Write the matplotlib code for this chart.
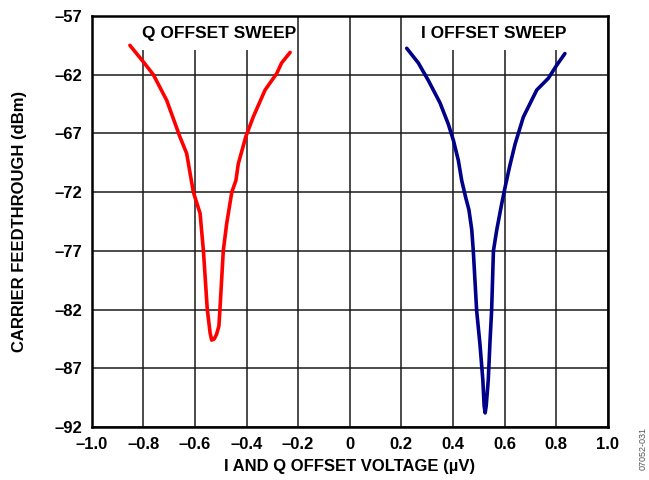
import matplotlib
matplotlib.use('Agg')
import matplotlib.pyplot as plt
from matplotlib.patches import Rectangle

# Q offset sweep (red)
q_volt = [-0.852, -0.800, -0.761, -0.709, -0.658, -0.632, -0.606, -0.580, -0.567,
          -0.552, -0.547, -0.541, -0.535, -0.525, -0.516, -0.507, -0.503, -0.490,
          -0.477, -0.457, -0.441, -0.432, -0.403, -0.374, -0.328, -0.283, -0.264, -0.231]
q_feed = [-59.5, -60.9, -62.0, -64.2, -67.3, -68.7, -72.0, -73.8, -77.0,
          -82.0, -82.9, -84.0, -84.6, -84.5, -84.1, -83.4, -82.0, -77.0,
          -74.7, -72.0, -71.0, -69.6, -67.3, -65.6, -63.3, -61.9, -61.0, -60.1]

# I offset sweep (blue)
i_volt = [0.221, 0.266, 0.305, 0.350, 0.382, 0.402, 0.421, 0.434, 0.450, 0.462,
          0.473, 0.479, 0.492, 0.505, 0.516, 0.521, 0.525, 0.529, 0.537, 0.544,
          0.550, 0.557, 0.570, 0.589, 0.603, 0.620, 0.641, 0.673, 0.725, 0.770,
          0.802, 0.834]
i_feed = [-59.75, -61.0, -62.5, -64.4, -66.2, -67.6, -69.3, -71.0, -72.5, -73.5,
          -75.2, -77.0, -82.1, -85.0, -88.0, -90.2, -90.8, -90.2, -88.0, -84.6,
          -82.1, -77.0, -75.2, -73.0, -71.5, -69.8, -67.9, -65.6, -63.3, -62.3,
          -61.2, -60.2]

xticks = [-1.0, -0.8, -0.6, -0.4, -0.2, 0, 0.2, 0.4, 0.6, 0.8, 1.0]
xlabels = ['–1.0', '–0.8', '–0.6', '–0.4', '–0.2', '0', '0.2', '0.4', '0.6', '0.8', '1.0']
yticks = [-57, -62, -67, -72, -77, -82, -87, -92]
ylabels = ['–57', '–62', '–67', '–72', '–77', '–82', '–87', '–92']

plt.rcParams['font.family'] = ['Liberation Sans', 'DejaVu Sans']
plt.rcParams['font.weight'] = 'bold'

fig = plt.figure(figsize=(6.49, 4.8), dpi=100)
ax = fig.add_axes([0.1413, 0.1104, 0.7951, 0.8563])

ax.set_xlim(-1.0, 1.0)
ax.set_ylim(-92, -57)
ax.set_xticks(xticks)
ax.set_xticklabels(xlabels, fontsize=12, fontweight='bold')
ax.set_yticks(yticks)
ax.set_yticklabels(ylabels, fontsize=12, fontweight='bold')
ax.tick_params(length=0, pad=7)

ax.grid(True, color='#1a1a1a', linewidth=1.1, zorder=0.5)
ax.set_axisbelow(True)
for s in ax.spines.values():
    s.set_linewidth(1.8)

# white boxes behind the sweep titles hide the grid
ax.add_patch(Rectangle((-0.82, -59.9), 0.61, 2.9, facecolor='white', edgecolor='none', zorder=1))
ax.add_patch(Rectangle((0.25, -59.9), 0.70, 2.9, facecolor='white', edgecolor='none', zorder=1))
ax.text(-0.507, -58.5, 'Q OFFSET SWEEP', ha='center', va='center', fontsize=12.5,
        fontweight='bold', zorder=3)
ax.text(0.559, -58.5, 'I OFFSET SWEEP', ha='center', va='center', fontsize=12.5,
        fontweight='bold', zorder=3)

ax.plot(q_volt, q_feed, color='#ff0000', linewidth=2.6, zorder=2, solid_capstyle='round')
ax.plot(i_volt, i_feed, color='#000088', linewidth=2.6, zorder=2, solid_capstyle='round')

ax.set_xlabel('I AND Q OFFSET VOLTAGE (µV)', fontsize=12, fontweight='bold', va='center')
ax.xaxis.set_label_coords(0.5, -0.095)
ax.set_ylabel('CARRIER FEEDTHROUGH (dBm)', fontsize=12, fontweight='bold', va='center')
ax.yaxis.set_label_coords(-0.139, 0.5)

fig.text(643 / 649, 1 - 448 / 480, '07052-031', rotation=90, fontsize=6.5,
         fontweight='normal', color='#555555', ha='center', va='center')

fig.savefig('out.png', dpi=100)
